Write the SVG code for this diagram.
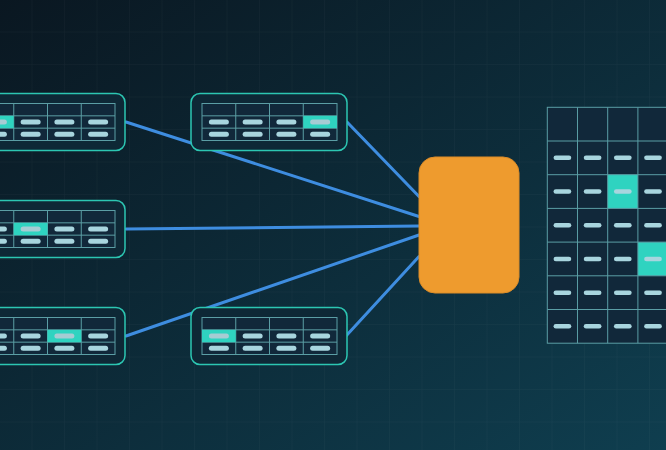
<svg xmlns="http://www.w3.org/2000/svg" xmlns:xlink="http://www.w3.org/1999/xlink" width="666" height="450" viewBox="0 0 666 450">
<style>
.card{fill:#0e2836;stroke:#2cc6b2;stroke-width:1.5}
.tbl{fill:#11283a;stroke:#5b9ea5;stroke-width:1}
.gl{stroke:#5b9ea5;stroke-width:1;fill:none}
.pill{fill:#a8d5de}
.hpill{fill:#a6ccd3}
.hl{fill:#2fd3c0}
.conn{stroke:#3e8de0;stroke-width:3;fill:none;stroke-linecap:round}
</style>
<defs>
<linearGradient id="bg" x1="0" y1="0" x2="1" y2="1">
<stop offset="0" stop-color="#0a1721"/>
<stop offset="1" stop-color="#0f3e4f"/>
</linearGradient>
<pattern id="grid" width="32.5" height="32.5" patternUnits="userSpaceOnUse">
<path d="M32.5 0V32.5M0 32.5H32.5" stroke="#ffffff" stroke-opacity="0.045" stroke-width="1" fill="none"/>
</pattern>
<g id="cardBase">
<rect class="card" x="0" y="0" width="156" height="57" rx="9"/>
<rect class="tbl" x="11" y="10" width="135" height="37"/>
<path class="gl" d="M44.75 10V47M78.5 10V47M112.25 10V47M11 22.33H146M11 34.67H146"/>
<rect class="pill" x="17.875" y="26" width="20" height="5" rx="2.5"/>
<rect class="pill" x="51.625" y="26" width="20" height="5" rx="2.5"/>
<rect class="pill" x="85.375" y="26" width="20" height="5" rx="2.5"/>
<rect class="pill" x="119.125" y="26" width="20" height="5" rx="2.5"/>
<rect class="pill" x="17.875" y="38.33" width="20" height="5" rx="2.5"/>
<rect class="pill" x="51.625" y="38.33" width="20" height="5" rx="2.5"/>
<rect class="pill" x="85.375" y="38.33" width="20" height="5" rx="2.5"/>
<rect class="pill" x="119.125" y="38.33" width="20" height="5" rx="2.5"/>
</g>
<rect id="mpill" class="pill" x="-8.85" y="-2.25" width="17.7" height="4.5" rx="2.25"/>
</defs>
<rect width="666" height="450" fill="url(#bg)"/>
<rect width="666" height="450" fill="url(#grid)"/>

<g id="connectors">
<line class="conn" x1="126" y1="122" x2="419" y2="216.5"/>
<line class="conn" x1="347" y1="122" x2="419" y2="196.5"/>
<line class="conn" x1="126" y1="229" x2="419" y2="226"/>
<line class="conn" x1="126" y1="336" x2="419" y2="235"/>
<line class="conn" x1="346" y1="336" x2="419" y2="256.5"/>
</g>

<g id="table-top-left" transform="translate(-31,93.5)">
<use xlink:href="#cardBase"/>
<rect class="hl" x="11" y="22.33" width="33.75" height="12.34"/>
<rect class="hpill" x="17.875" y="26" width="20" height="5" rx="2.5"/>
</g>
<g id="table-top-mid" transform="translate(191,93.5)">
<use xlink:href="#cardBase"/>
<rect class="hl" x="112.25" y="22.33" width="33.75" height="12.34"/>
<rect class="hpill" x="119.125" y="26" width="20" height="5" rx="2.5"/>
</g>
<g id="table-mid-left" transform="translate(-31,200.5)">
<use xlink:href="#cardBase"/>
<rect class="hl" x="44.75" y="22.33" width="33.75" height="12.34"/>
<rect class="hpill" x="51.625" y="26" width="20" height="5" rx="2.5"/>
</g>
<g id="table-bottom-left" transform="translate(-31,307.5)">
<use xlink:href="#cardBase"/>
<rect class="hl" x="78.5" y="22.33" width="33.75" height="12.34"/>
<rect class="hpill" x="85.375" y="26" width="20" height="5" rx="2.5"/>
</g>
<g id="table-bottom-mid" transform="translate(191,307.5)">
<use xlink:href="#cardBase"/>
<rect class="hl" x="11" y="22.33" width="33.75" height="12.34"/>
<rect class="hpill" x="17.875" y="26" width="20" height="5" rx="2.5"/>
</g>

<g id="processor">
<rect x="419" y="157" width="100" height="136" rx="16" fill="#ee9b2e" stroke="#dc8c28" stroke-width="1"/>
</g>

<g id="matrix" transform="translate(547.3,107.3)">
<rect class="tbl" x="0" y="0" width="130" height="235.9"/>
<rect class="hl" x="60.4" y="67.4" width="30.2" height="33.7"/>
<rect class="hl" x="90.6" y="134.8" width="30.2" height="33.7"/>
<path class="gl" d="M30.2 0V235.9M60.4 0V235.9M90.6 0V235.9M0 33.7H130M0 67.4H130M0 101.1H130M0 134.8H130M0 168.5H130M0 202.2H130"/>
<use xlink:href="#mpill" x="15.1" y="50.55"/><use xlink:href="#mpill" x="45.3" y="50.55"/><use xlink:href="#mpill" x="75.5" y="50.55"/><use xlink:href="#mpill" x="105.7" y="50.55"/>
<use xlink:href="#mpill" x="15.1" y="84.25"/><use xlink:href="#mpill" x="45.3" y="84.25"/><use xlink:href="#mpill" x="75.5" y="84.25"/><use xlink:href="#mpill" x="105.7" y="84.25"/>
<use xlink:href="#mpill" x="15.1" y="117.95"/><use xlink:href="#mpill" x="45.3" y="117.95"/><use xlink:href="#mpill" x="75.5" y="117.95"/><use xlink:href="#mpill" x="105.7" y="117.95"/>
<use xlink:href="#mpill" x="15.1" y="151.65"/><use xlink:href="#mpill" x="45.3" y="151.65"/><use xlink:href="#mpill" x="75.5" y="151.65"/><use xlink:href="#mpill" x="105.7" y="151.65"/>
<use xlink:href="#mpill" x="15.1" y="185.35"/><use xlink:href="#mpill" x="45.3" y="185.35"/><use xlink:href="#mpill" x="75.5" y="185.35"/><use xlink:href="#mpill" x="105.7" y="185.35"/>
<use xlink:href="#mpill" x="15.1" y="219.05"/><use xlink:href="#mpill" x="45.3" y="219.05"/><use xlink:href="#mpill" x="75.5" y="219.05"/><use xlink:href="#mpill" x="105.7" y="219.05"/>
</g>
</svg>
